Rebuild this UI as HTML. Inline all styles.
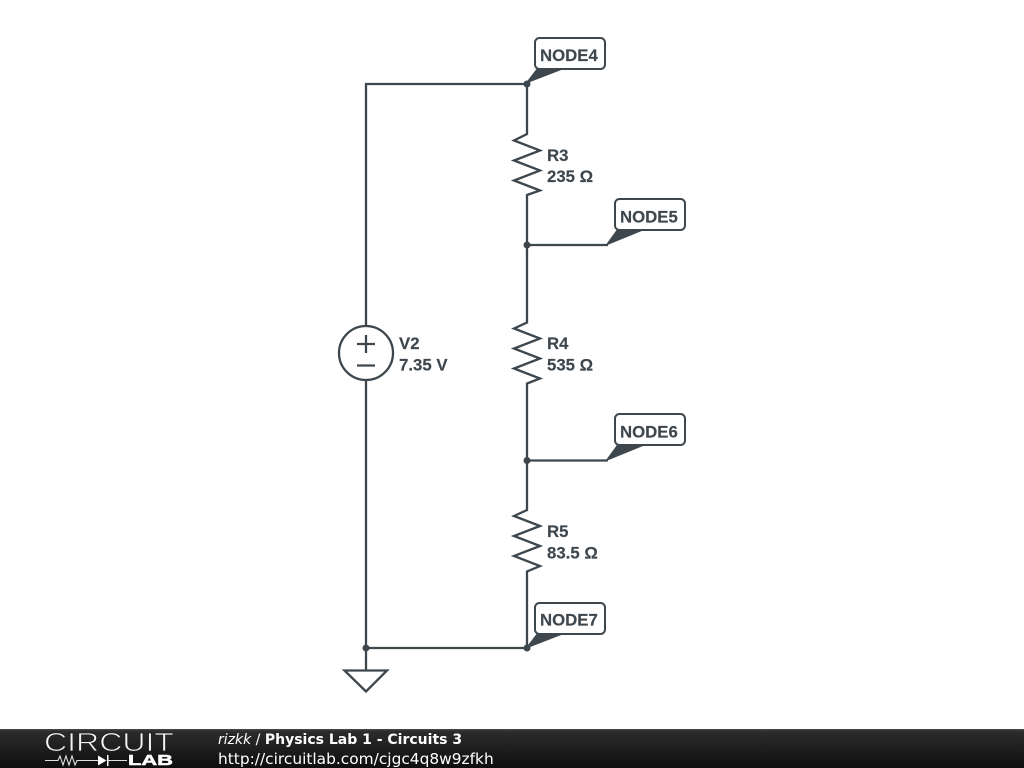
<!DOCTYPE html>
<html>
<head>
<meta charset="utf-8">
<title>Physics Lab 1 - Circuits 3</title>
<style>
html,body{margin:0;padding:0;background:#fff;width:1024px;height:768px;overflow:hidden}
svg{display:block}
.l{font-family:"Liberation Sans",sans-serif;font-weight:700;font-size:16.8px;fill:#3d474d;stroke:#3d474d;stroke-width:.15}
</style>
</head>
<body>
<svg width="1024" height="768" viewBox="0 0 1024 768" xmlns="http://www.w3.org/2000/svg">
<defs>
<linearGradient id="bar" x1="0" y1="0" x2="0" y2="1">
<stop offset="0" stop-color="#4a4a4a"/><stop offset="0.06" stop-color="#2c2c2c"/><stop offset="0.5" stop-color="#1e1e1e"/><stop offset="1" stop-color="#0e0e0e"/>
</linearGradient>
</defs>
<rect width="1024" height="768" fill="#fff"/>
<g fill="none" stroke="#3d474d" stroke-width="2.3" stroke-linejoin="miter">
<path d="M366 326V84H527V134L514 140.500 540 150.500 514 160.500 540 170.500 514 180.500 540 190.500 527 195V322.500L514 328.500 540 338.500 514 348.500 540 358.500 514 368.500 540 378.500 527 383.500V510L514 516 540 526 514 536 540 546 514 556 540 566 527 571.500V648H366V380"/>
<path d="M527 245H608M527 460.500H608"/>
<path d="M366 648V670"/>
<path d="M344.500 670.500H387L366 691.500Z"/>
<circle cx="366" cy="353" r="27"/>
<path d="M357 344H375M366 335V353M357 365.500H375"/>
</g>
<g fill="#3d474d">
<circle cx="527" cy="84" r="3.500"/>
<circle cx="527" cy="245" r="3.500"/>
<circle cx="527" cy="460.500" r="3.500"/>
<circle cx="527" cy="648" r="3.500"/>
<circle cx="366" cy="648" r="3.500"/>
<path d="M525 84L538 67H569Z"/>
<path d="M605 246L618 228H649Z"/>
<path d="M605 461.500L618 443.500H649Z"/>
<path d="M525 649L538 632H569Z"/>
</g>
<g fill="#fff" stroke="#3d474d" stroke-width="2">
<rect x="535" y="38" width="70" height="31" rx="4.500"/>
<rect x="615" y="199" width="70" height="31" rx="4.500"/>
<rect x="615" y="414" width="70" height="31" rx="4.500"/>
<rect x="535" y="603" width="70" height="31" rx="4.500"/>
</g>
<g>
<text class="l" x="540" y="61">NODE4</text>
<text class="l" x="620" y="222.500">NODE5</text>
<text class="l" x="620" y="437.500">NODE6</text>
<text class="l" x="540" y="625.500">NODE7</text>
<text class="l" x="547" y="161">R3</text>
<text class="l" x="547" y="182">235 Ω</text>
<text class="l" x="547" y="349">R4</text>
<text class="l" x="547" y="370.500">535 Ω</text>
<text class="l" x="547" y="537">R5</text>
<text class="l" x="547" y="558.500">83.5 Ω</text>
<text class="l" x="399" y="349">V2</text>
<text class="l" x="399" y="370.500">7.35 V</text>
</g>
<rect x="0" y="729" width="1024" height="39" fill="url(#bar)"/>
<text x="44" y="751" font-family="'Liberation Sans',sans-serif" font-size="26" fill="#f4f4f4" stroke="#222" stroke-width=".8" textLength="130" lengthAdjust="spacingAndGlyphs">CIRCUIT</text>
<path d="M45 760.500H58L60 756 63 765 66 756 69 765 72 756 75 765 77 760.500H98M108 760.500H127" fill="none" stroke="#e0e0e0" stroke-width="1.100"/>
<path d="M98 755.500V765.500L106.500 760.500Z M107 755H108.500V766H107Z" fill="#fff"/>
<text x="128" y="765" font-family="'Liberation Sans',sans-serif" font-weight="700" font-size="15" fill="#fff" stroke="#fff" stroke-width=".5" textLength="45" lengthAdjust="spacingAndGlyphs">LAB</text>
<text x="218" y="744" font-family="'DejaVu Sans',sans-serif" font-size="14" fill="#fff"><tspan font-style="italic">rizkk</tspan> / <tspan font-weight="700">Physics Lab 1 - Circuits 3</tspan></text>
<text x="218" y="764" font-family="'DejaVu Sans',sans-serif" font-size="15.4" fill="#fff">http://circuitlab.com/cjgc4q8w9zfkh</text>
</svg>
</body>
</html>
